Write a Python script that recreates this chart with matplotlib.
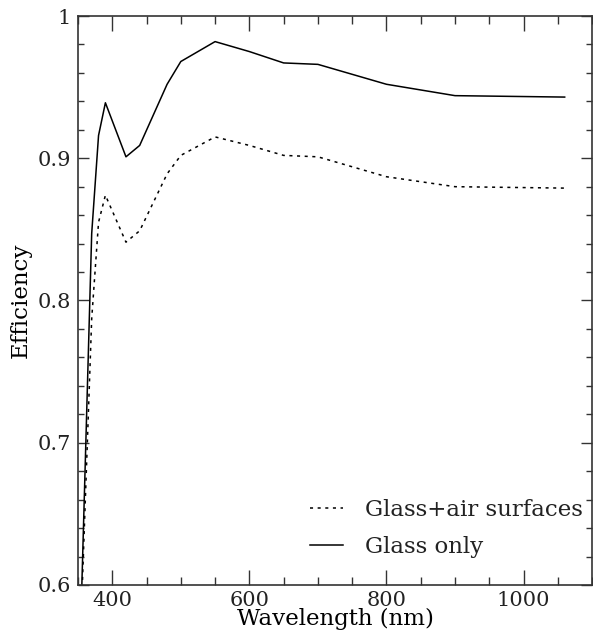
import matplotlib
matplotlib.use("Agg")
import matplotlib.pyplot as plt
from matplotlib.ticker import MultipleLocator

# Пропускание оптики по длинам волн
wavelength = [350, 370, 380, 390, 420, 440, 480, 500, 550, 600, 650, 700, 800, 900, 1060]
glass_air = [0.513, 0.787, 0.855, 0.874, 0.841, 0.849, 0.889, 0.902, 0.915, 0.909, 0.902, 0.901, 0.887, 0.880, 0.879]
glass_only = [0.503, 0.847, 0.916, 0.939, 0.901, 0.909, 0.952, 0.968, 0.982, 0.975, 0.967, 0.966, 0.952, 0.944, 0.943]

plt.rcParams['font.family'] = ['DejaVu Serif']
plt.rcParams['text.color'] = '#222222'

fig = plt.figure(figsize=(5.93, 6.4), dpi=100)
ax = fig.add_axes([0.1315, 0.086, 0.867, 0.889])

ax.plot(wavelength, glass_air, color='black', lw=1.1, linestyle=(0, (2, 3)), label='Glass+air surfaces')
ax.plot(wavelength, glass_only, color='black', lw=1.1, label='Glass only')

ax.set_xlim(350, 1100)
ax.set_ylim(0.6, 1.0)
ax.xaxis.set_major_locator(MultipleLocator(200))
ax.xaxis.set_minor_locator(MultipleLocator(50))
ax.yaxis.set_major_locator(MultipleLocator(0.1))
ax.yaxis.set_minor_locator(MultipleLocator(0.02))
ax.set_yticks([0.6, 0.7, 0.8, 0.9, 1.0])
ax.set_yticklabels(['0.6', '0.7', '0.8', '0.9', '1'])

ax.tick_params(which='both', direction='in', top=True, right=True, colors='#333333', labelcolor='#222222', labelsize=15)
ax.tick_params(axis='x', which='major', length=11, width=1, pad=4)
ax.tick_params(axis='x', which='minor', length=5.5, width=1)
ax.tick_params(axis='y', which='major', length=8, width=1, pad=5)
ax.tick_params(axis='y', which='minor', length=4, width=1)
for s in ax.spines.values():
    s.set_linewidth(1.2)
    s.set_color('#333333')

ax.set_xlabel("Wavelength (nm)", fontsize=16.5, labelpad=-1)
ax.set_ylabel("Efficiency", fontsize=16.5, labelpad=4)

ax.legend(loc='lower right', bbox_to_anchor=(1.0, 0.032), frameon=False, fontsize=16.5,
          handlelength=1.45, handletextpad=0.95, labelspacing=0.65, borderaxespad=0.0)

fig.savefig("out.png", dpi=100)
